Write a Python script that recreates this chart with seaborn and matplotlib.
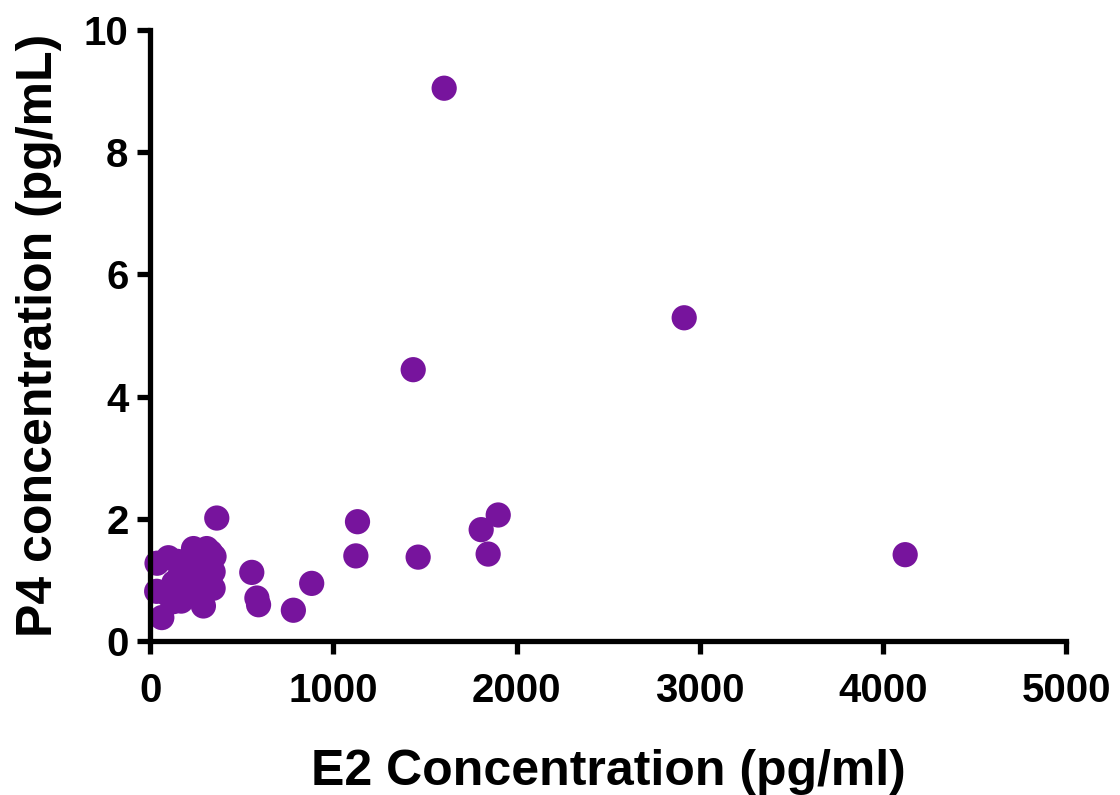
import matplotlib
matplotlib.use('Agg')
import matplotlib.pyplot as plt
import seaborn as sns
import pandas as pd

# E2 (pg/ml) vs P4 (pg/mL)
e2 = [1605, 2915, 1436, 4121, 1900, 1807, 1845, 1463, 1132, 1123,
      882, 782, 555, 583, 592, 364,
      38, 64, 100, 126, 36, 237, 309, 349, 344, 344, 291,
      150, 180, 200, 220, 260, 290, 310, 250, 130, 100, 170, 280, 330, 200, 160]
p4 = [9.05, 5.29, 4.44, 1.41, 2.06, 1.82, 1.42, 1.37, 1.95, 1.39,
      0.94, 0.50, 1.12, 0.70, 0.59, 2.01,
      1.27, 0.38, 1.36, 0.64, 0.81, 1.51, 1.51, 1.38, 1.13, 0.86, 0.57,
      1.30, 1.15, 1.00, 0.80, 1.20, 0.90, 1.00, 1.30, 0.95, 0.75, 0.65, 0.70, 1.45, 1.25, 1.05]

df = pd.DataFrame({"E2": e2, "P4": p4})

sns.set_style("ticks")
plt.rcParams['font.family'] = ['Liberation Sans', 'DejaVu Sans']
plt.rcParams['font.weight'] = 'bold'

fig = plt.figure(figsize=(11.2, 7.95), dpi=100)
ax = fig.add_axes([0.134, 0.194, 0.818, 0.768])

sns.scatterplot(data=df, x="E2", y="P4", ax=ax, color="#77149d",
                s=330, edgecolor="none", legend=False, clip_on=False)

ax.set_xlim(0, 5000)
ax.set_ylim(0, 10)
ax.set_xticks([0, 1000, 2000, 3000, 4000, 5000])
ax.set_yticks([0, 2, 4, 6, 8, 10])
sns.despine(ax=ax)
for side in ['left', 'bottom']:
    ax.spines[side].set_linewidth(3.8)
    ax.spines[side].set_color('black')
ax.tick_params(width=3.8, length=9.5, labelsize=29, colors='black')
ax.tick_params(axis='x', pad=13)
ax.tick_params(axis='y', pad=6)
for lab in ax.get_xticklabels() + ax.get_yticklabels():
    lab.set_fontweight('bold')

ax.set_xlabel("E2 Concentration (pg/ml)", fontsize=36, fontweight='bold',
              labelpad=28, color='black')
ax.set_ylabel("P4 concentration (pg/mL)", fontsize=36, fontweight='bold',
              labelpad=16, color='black')

fig.savefig("out.png", dpi=100)
